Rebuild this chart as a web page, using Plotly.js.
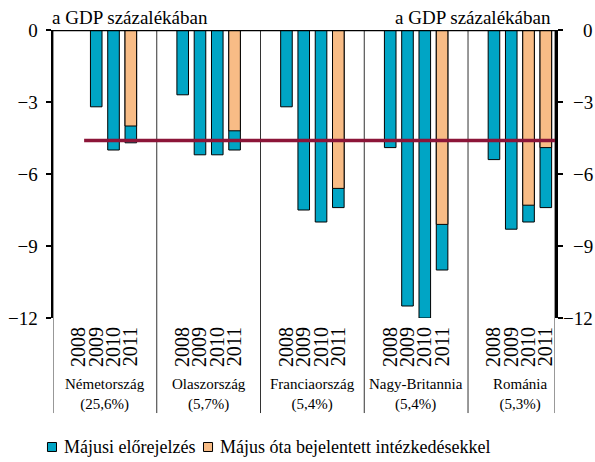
<!DOCTYPE html>
<html>
<head>
<meta charset="utf-8">
<script src="https://cdn.plot.ly/plotly-3.0.1.min.js"></script>
<style>html,body{margin:0;padding:0;background:#fff;}#chart{width:595px;height:462px;}</style>
</head>
<body>
<div id="chart"></div>
<script>
// ---- data ----
const countries = ['Németország', 'Olaszország', 'Franciaország', 'Nagy-Britannia', 'Románia'];
const weights = ['(25,6%)', '(5,7%)', '(5,4%)', '(5,4%)', '(5,3%)'];
const years = ['2008', '2009', '2010', '2011'];

// Májusi előrejelzés (May forecast), per country, 2008-2011
const forecastDE = [0, -3.2, -5.0, -4.7];
const forecastIT = [-2.7, -5.2, -5.2, -5.0];
const forecastFR = [-3.2, -7.5, -8.0, -7.4];
const forecastUK = [-4.9, -11.5, -12.0, -10.0];
const forecastRO = [-5.4, -8.3, -8.0, -7.4];

// Május óta bejelentett intézkedésekkel (with measures announced since May)
const measuresDE = [null, null, null, -4.0];
const measuresIT = [null, null, null, -4.2];
const measuresFR = [null, null, null, -6.6];
const measuresUK = [null, null, null, -8.1];
const measuresRO = [null, null, -7.3, -4.9];

const referenceLevel = -4.6;
const yTicks = [0, -3, -6, -9, -12];

const seriesNames = ['Májusi előrejelzés', 'Május óta bejelentett intézkedésekkel'];
const unitLabel = 'a GDP százalékában';

// ---- layout helpers ----
const forecasts = [forecastDE, forecastIT, forecastFR, forecastUK, forecastRO];
const measures = [measuresDE, measuresIT, measuresFR, measuresUK, measuresRO];
const groupSpan = 6, firstOffset = 1.5;
const xMax = 29.03;

const xs = [], fy = [], my = [], tickText = [];
countries.forEach((c, g) => {
  years.forEach((yr, j) => {
    xs.push(g * groupSpan + firstOffset + j);
    fy.push(forecasts[g][j]);
    my.push(measures[g][j]);
    tickText.push(yr);
  });
});

const teal = '#00A5C5';
const orange = '#F8BC86';
const colors = [teal, orange];
const font = '"Liberation Serif", "Times New Roman", serif';

const traces = [
  {type: 'bar', x: xs, y: fy, name: seriesNames[0], width: 0.67, showlegend: false,
   marker: {color: teal, line: {color: '#000', width: 1}}},
  {type: 'bar', x: xs, y: my, name: seriesNames[1], width: 0.67, showlegend: false,
   marker: {color: orange, line: {color: '#000', width: 1}}},
  {type: 'scatter', x: [0], y: [0], yaxis: 'y2', showlegend: false, hoverinfo: 'skip',
   mode: 'markers', marker: {opacity: 0}}
];

const shapes = [];
// separators between countries (and axis extensions below the plot)
for (let g = 0; g <= countries.length; g++) {
  const xv = g < countries.length ? g * groupSpan : xMax;
  shapes.push({type: 'line', xref: 'x', yref: 'paper', x0: xv, x1: xv, y0: 1, y1: -0.33,
               line: {color: '#333', width: 1}, layer: 'below'});
}
// zero line on top
shapes.push({type: 'line', xref: 'paper', yref: 'y', x0: 0, x1: 1, y0: 0, y1: 0,
             line: {color: '#000', width: 2.5}, layer: 'above'});
// reference level line
shapes.push({type: 'line', xref: 'x', yref: 'y', x0: 1.8, x1: xMax, y0: referenceLevel, y1: referenceLevel,
             line: {color: '#8C1538', width: 3.5}, layer: 'above'});

const annotations = [];
countries.forEach((c, g) => {
  annotations.push({xref: 'x', yref: 'paper', x: g * groupSpan + 3, y: -0.265,
    text: c + '<br>' + weights[g], showarrow: false, xanchor: 'center', yanchor: 'middle',
    font: {family: font, size: 15, color: '#000'}});
});
annotations.push({xref: 'paper', yref: 'paper', x: -0.006, y: 1.0, yanchor: 'bottom', xanchor: 'left',
  text: unitLabel, showarrow: false, font: {family: font, size: 19, color: '#000'}});
annotations.push({xref: 'paper', yref: 'paper', x: 0.996, y: 1.0, yanchor: 'bottom', xanchor: 'right',
  text: unitLabel, showarrow: false, font: {family: font, size: 19, color: '#000'}});
// right-side tick labels (right aligned)
yTicks.forEach(t => {
  annotations.push({xref: 'paper', yref: 'y', x: 1.08, y: t, xanchor: 'right', yanchor: 'middle',
    text: t === 0 ? '0' : '\u2212' + Math.abs(t), showarrow: false,
    font: {family: font, size: 19, color: '#000'}});
});

// legend (keys + labels)
const legendKeyX = [-0.011, 0.2998];
const legendTextX = [0.0179, 0.3287];
seriesNames.forEach((n, i) => {
  shapes.push({type: 'rect', xref: 'paper', yref: 'paper', x0: legendKeyX[i], x1: legendKeyX[i] + 0.018,
               y0: -0.4635, y1: -0.4323, fillcolor: colors[i], line: {color: '#000', width: 1}});
  annotations.push({xref: 'paper', yref: 'paper', x: legendTextX[i], y: -0.448, xanchor: 'left',
                    yanchor: 'middle', text: n, showarrow: false,
                    font: {family: font, size: 18, color: '#000'}});
});

const layout = {
  width: 595, height: 462,
  margin: {l: 53, r: 40, t: 30, b: 144, autoexpand: false},
  paper_bgcolor: '#fff', plot_bgcolor: '#fff',
  barmode: 'overlay',
  showlegend: false,
  font: {family: font, color: '#000'},
  xaxis: {range: [0, xMax], showgrid: false, zeroline: false, showline: false,
          tickmode: 'array', tickvals: xs, ticktext: tickText, tickangle: -90, ticks: '',
          ticklabelstandoff: 4,
          tickfont: {family: font, size: 20, color: '#000'}, fixedrange: true},
  yaxis: {range: [-12, 0], tickvals: yTicks, showgrid: false, zeroline: false,
          showline: true, linecolor: '#000', linewidth: 2.5, ticks: 'outside', ticklen: 5,
          tickwidth: 2, tickcolor: '#000', tickfont: {family: font, size: 19, color: '#000'},
          ticklabelstandoff: 4},
  yaxis2: {range: [-12, 0], overlaying: 'y', side: 'right', tickvals: yTicks, showgrid: false,
           zeroline: false, showline: true, linecolor: '#000', linewidth: 2.5, ticks: 'outside',
           ticklen: 5, tickwidth: 2, tickcolor: '#000', showticklabels: false},
  shapes: shapes,
  annotations: annotations
};

Plotly.newPlot('chart', traces, layout, {staticPlot: true, displayModeBar: false});
</script>
</body>
</html>
